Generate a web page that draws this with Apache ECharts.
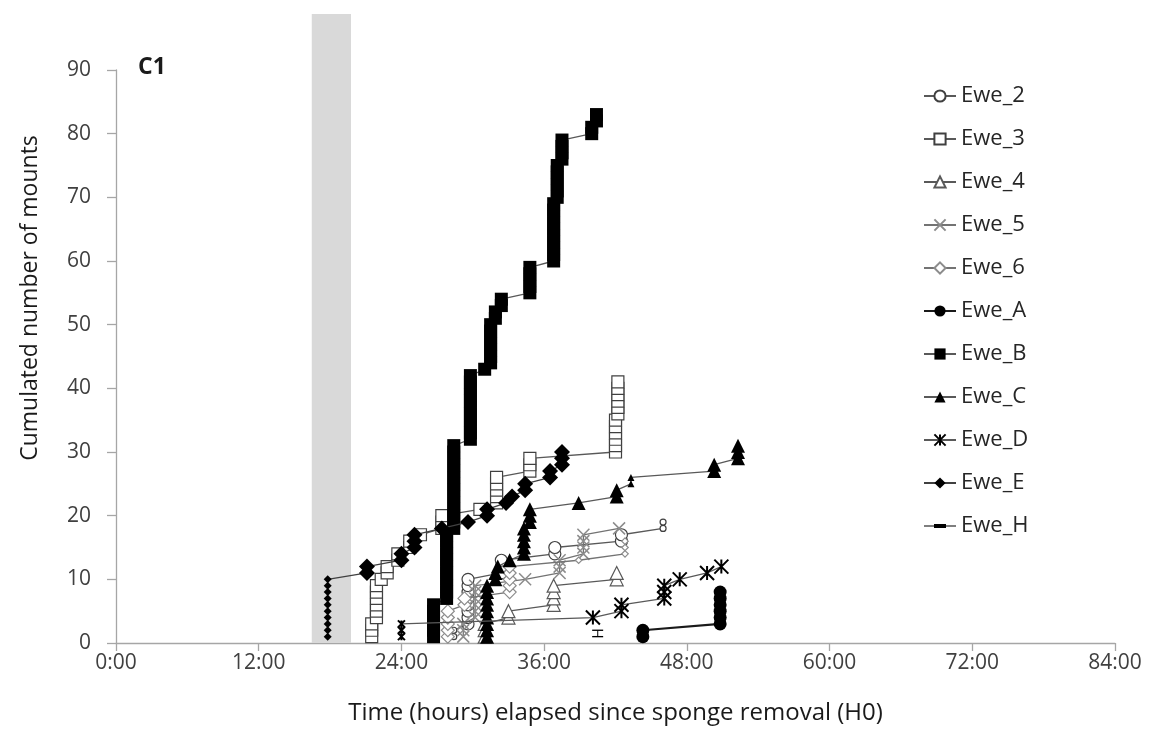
<!DOCTYPE html>
<html>
<head>
<meta charset="utf-8">
<script src="https://cdn.jsdelivr.net/npm/echarts@6/dist/echarts.min.js"></script>
<style>
html,body{margin:0;padding:0;background:#fff;}
#chart{width:1155px;height:749px;}
</style>
</head>
<body>
<div id="chart"></div>
<script>
// ---------- DATA (hours since sponge removal, cumulated number of mounts) ----------
const xTickLabels = ['0:00', '12:00', '24:00', '36:00', '48:00', '60:00', '72:00', '84:00'];
const yTickValues = [0, 10, 20, 30, 40, 50, 60, 70, 80, 90];
const seriesNames = ['Ewe_2', 'Ewe_3', 'Ewe_4', 'Ewe_5', 'Ewe_6', 'Ewe_A', 'Ewe_B', 'Ewe_C', 'Ewe_D', 'Ewe_E', 'Ewe_H'];

// shaded period (hours) and its top (mounts)
const shadedPeriod = [16.46, 19.76];
const shadedTop = 98.8;

const ewe2 = [[28.4,1],[28.4,2],[29.6,3],[29.6,4],[29.6,5],[29.6,6],[29.6,7],[29.6,8],[29.6,9],[29.6,10],
  [32.4,11],[32.4,12],[32.4,13],[36.9,14],[36.9,15],[42.5,16],[42.5,17],[46.0,18],[46.0,19]];
const ewe3 = [[21.5,1],[21.5,2],[21.5,3],[21.9,4],[21.9,5],[21.9,6],[21.9,7],[21.9,8],[21.9,9],[22.3,10],
  [22.8,11],[22.8,12],[23.7,13],[23.7,14],[24.7,15],[24.7,16],[25.6,17],[27.4,18],[27.4,19],[27.4,20],
  [30.6,21],[32.0,22],[32.0,23],[32.0,24],[32.0,25],[32.0,26],[34.8,27],[34.8,28],[34.8,29],
  [42.0,30],[42.0,31],[42.0,32],[42.0,33],[42.0,34],[42.0,35],[42.2,36],[42.2,37],[42.2,38],[42.2,39],[42.2,40],[42.2,41]];
const ewe4 = [[31.0,1],[31.0,2],[31.0,3],[33.0,4],[33.0,5],[36.8,6],[36.8,7],[36.8,8],[36.8,9],[42.1,10],[42.1,11]];
const ewe5 = [[29.2,1],[29.2,2],[29.2,3],[30.2,4],[30.2,5],[30.2,6],[30.2,7],[30.2,8],[30.2,9],[34.4,10],
  [37.3,11],[37.3,12],[37.3,13],[39.3,14],[39.3,15],[39.3,16],[39.3,17],[42.3,18]];
const ewe6 = [[27.9,1],[27.9,2],[27.9,3],[27.9,4],[27.9,5],[29.3,6],[29.3,7],[33.1,8],[33.1,9],[33.1,10],[33.1,11],[33.1,12],
  [38.9,13],[42.8,14],[42.8,15],[42.8,16]];
const eweA = [[44.3,1],[44.3,2],[50.8,3],[50.8,4],[50.8,5],[50.8,6],[50.8,7],[50.8,8]];
const eweB = [[26.7,1],[26.7,2],[26.7,3],[26.7,4],[26.7,5],[26.7,6],
  [27.8,7],[27.8,8],[27.8,9],[27.8,10],[27.8,11],[27.8,12],[27.8,13],[27.8,14],[27.8,15],[27.8,16],[27.8,17],
  [28.4,18],[28.4,19],[28.4,20],[28.4,21],[28.4,22],[28.4,23],[28.4,24],[28.4,25],[28.4,26],[28.4,27],[28.4,28],[28.4,29],[28.4,30],[28.4,31],
  [29.8,32],[29.8,33],[29.8,34],[29.8,35],[29.8,36],[29.8,37],[29.8,38],[29.8,39],[29.8,40],[29.8,41],[29.8,42],
  [31.0,43],[31.5,44],[31.5,45],[31.5,46],[31.5,47],[31.5,48],[31.5,49],[31.5,50],[31.9,51],[31.9,52],[32.4,53],[32.4,54],
  [34.8,55],[34.8,56],[34.8,57],[34.8,58],[34.8,59],
  [36.8,60],[36.8,61],[36.8,62],[36.8,63],[36.8,64],[36.8,65],[36.8,66],[36.8,67],[36.8,68],[36.8,69],
  [37.1,70],[37.1,71],[37.1,72],[37.1,73],[37.1,74],[37.1,75],[37.5,76],[37.5,77],[37.5,78],[37.5,79],
  [40.0,80],[40.0,81],[40.4,82],[40.4,83]];
const eweC = [[31.2,1],[31.2,2],[31.2,3],[31.2,4],[31.2,5],[31.2,6],[31.2,7],[31.2,8],[31.2,9],[31.9,10],[31.9,11],[32.1,12],
  [33.1,13],[34.3,14],[34.3,15],[34.3,16],[34.3,17],[34.3,18],[34.8,19],[34.8,20],[34.8,21],[38.9,22],[42.1,23],[42.1,24],
  [43.3,25],[43.3,26],[50.3,27],[50.3,28],[52.3,29],[52.3,30],[52.3,31]];
const eweD = [[24.0,1],[24.0,2],[24.0,3],[40.1,4],[42.5,5],[42.5,6],[46.1,7],[46.1,8],[46.1,9],[47.4,10],[49.7,11],[50.9,12]];
const eweE = [[17.8,1],[17.8,2],[17.8,3],[17.8,4],[17.8,5],[17.8,6],[17.8,7],[17.8,8],[17.8,9],[17.8,10],
  [21.1,11],[21.1,12],[24.0,13],[24.0,14],[25.1,15],[25.1,16],[25.1,17],[27.4,18],[29.6,19],[31.2,20],[31.2,21],
  [32.8,22],[33.3,23],[34.4,24],[34.4,25],[36.5,26],[36.5,27],[37.5,28],[37.5,29],[37.5,30]];
const eweH = [[40.5,1],[40.5,2]];

const seriesData = [ewe2, ewe3, ewe4, ewe5, ewe6, eweA, eweB, eweC, eweD, eweE, eweH];

// hours at which a ewe's markers are drawn small in the original figure
const smallMarkerHours = {Ewe_2: [28.4, 46.0], Ewe_6: [38.9, 42.8], Ewe_C: [43.3], Ewe_D: [24.0], Ewe_E: [17.8]};

// ---------- STYLE ----------
const FONT = '"Open Sans", sans-serif';
const DASH = 'path://M0,0L12,0L12,4L0,4Z';
// legend icon for Ewe_H: thin connecting line with a thick dash marker in the middle
const DASH_LEGEND = 'path://M0,6.4L32,6.4L32,7.6L0,7.6Z M10,5L22,5L22,9L10,9Z';
const styles = {
  Ewe_2: {symbol: 'circle', size: 12, fill: '#ffffff', stroke: '#404040', bw: 1.2, line: '#595959', lw: 1.3},
  Ewe_3: {symbol: 'rect', size: 12, fill: '#ffffff', stroke: '#404040', bw: 1.2, line: '#595959', lw: 1.3},
  Ewe_4: {symbol: 'triangle', size: 13, fill: '#ffffff', stroke: '#595959', bw: 1.2, line: '#595959', lw: 1.3},
  Ewe_5: {symbol: 'path://M0,0L10,10M0,10L10,0', size: 12, fill: 'none', stroke: '#8c8c8c', bw: 1.5, line: '#737373', lw: 1.3},
  Ewe_6: {symbol: 'diamond', size: 13, fill: '#ffffff', stroke: '#8c8c8c', bw: 1.2, line: '#737373', lw: 1.3},
  Ewe_A: {symbol: 'circle', size: 13, fill: '#000000', stroke: '#000000', bw: 0, line: '#1a1a1a', lw: 2.2},
  Ewe_B: {symbol: 'rect', size: 13, fill: '#000000', stroke: '#000000', bw: 0, line: '#595959', lw: 1.3},
  Ewe_C: {symbol: 'triangle', size: 14, fill: '#000000', stroke: '#000000', bw: 0, line: '#595959', lw: 1.3},
  Ewe_D: {symbol: 'path://M0,0L10,10M0,10L10,0M5,0L5,10', size: 14, fill: 'none', stroke: '#000000', bw: 2, line: '#595959', lw: 1.3},
  Ewe_E: {symbol: 'diamond', size: 16, fill: '#000000', stroke: '#000000', bw: 0, line: '#404040', lw: 1.3},
  Ewe_H: {symbol: DASH, size: [11, 4], fill: '#000000', stroke: '#000000', bw: 0, line: '#404040', lw: 1.3, keep: true}
};

const lineSeries = seriesNames.map(function (name, i) {
  const st = styles[name];
  const small = smallMarkerHours[name] || [];
  return {
    name: name,
    type: 'line',
    data: seriesData[i],
    symbol: st.symbol,
    symbolKeepAspect: !!st.keep,
    symbolSize: Array.isArray(st.size) ? st.size : function (v) {
      return small.indexOf(v[0]) >= 0 ? st.size * 0.5 : st.size;
    },
    showAllSymbol: true,
    lineStyle: {color: st.line, width: st.lw},
    itemStyle: {color: st.fill, borderColor: st.stroke, borderWidth: st.bw},
    emphasis: {disabled: true},
    z: 3 + i
  };
});

const bandSeries = {
  type: 'custom',
  name: 'shade',
  silent: true,
  clip: false,
  z: 1,
  data: [[shadedPeriod[0], shadedPeriod[1], shadedTop]],
  renderItem: function (params, api) {
    const p0 = api.coord([api.value(0), 0]);
    const p1 = api.coord([api.value(1), api.value(2)]);
    return {
      type: 'rect',
      shape: {x: p0[0], y: p1[1], width: p1[0] - p0[0], height: p0[1] - p1[1]},
      style: {fill: '#d9d9d9'}
    };
  }
};

const legendData = seriesNames.map(function (n) {
  return n === 'Ewe_H' ? {name: n, icon: DASH_LEGEND} : {name: n};
});

const chart = echarts.init(document.getElementById('chart'), null, {renderer: 'canvas'});
chart.setOption({
  animation: false,
  backgroundColor: '#ffffff',
  title: {
    text: 'C1', left: 138, top: 56, padding: 0,
    textStyle: {fontFamily: FONT, fontSize: 23, fontWeight: 'bold', color: '#1a1a1a'}
  },
  grid: {left: 116, right: 40, top: 70, bottom: 106, containLabel: false},
  legend: {
    data: legendData,
    orient: 'vertical',
    left: 923, top: 85, padding: 0,
    itemWidth: 32, itemHeight: 14, itemGap: 21,
    textStyle: {fontFamily: FONT, fontSize: 22, color: '#262626', lineHeight: 22},
    selectedMode: false
  },
  xAxis: {
    type: 'value', min: 0, max: 84, interval: 12,
    name: 'Time (hours) elapsed since sponge removal (H0)',
    nameLocation: 'middle', nameGap: 58,
    nameTextStyle: {fontFamily: FONT, fontSize: 24, color: '#1a1a1a'},
    axisLine: {show: true, lineStyle: {color: '#a6a6a6', width: 1.3}},
    axisTick: {show: true, length: 8, lineStyle: {color: '#a6a6a6', width: 1.3}},
    splitLine: {show: false},
    axisLabel: {
      fontFamily: FONT, fontSize: 21, color: '#404040', margin: 10,
      formatter: function (v) { return xTickLabels[Math.round(v / 12)]; }
    }
  },
  yAxis: {
    type: 'value', min: yTickValues[0], max: yTickValues[yTickValues.length - 1], interval: 10,
    axisLine: {show: true, lineStyle: {color: '#a6a6a6', width: 1.3}},
    axisTick: {show: true, length: 9, lineStyle: {color: '#a6a6a6', width: 1.3}},
    splitLine: {show: false},
    axisLabel: {fontFamily: FONT, fontSize: 21, color: '#404040', margin: 25}
  },
  graphic: [{
    type: 'text', x: 30, y: 298, rotation: Math.PI / 2,
    style: {
      text: 'Cumulated number of mounts', fontFamily: FONT, fontSize: 23, fill: '#1a1a1a',
      textAlign: 'center', textVerticalAlign: 'middle'
    }
  }],
  series: [bandSeries].concat(lineSeries)
});
</script>
</body>
</html>
